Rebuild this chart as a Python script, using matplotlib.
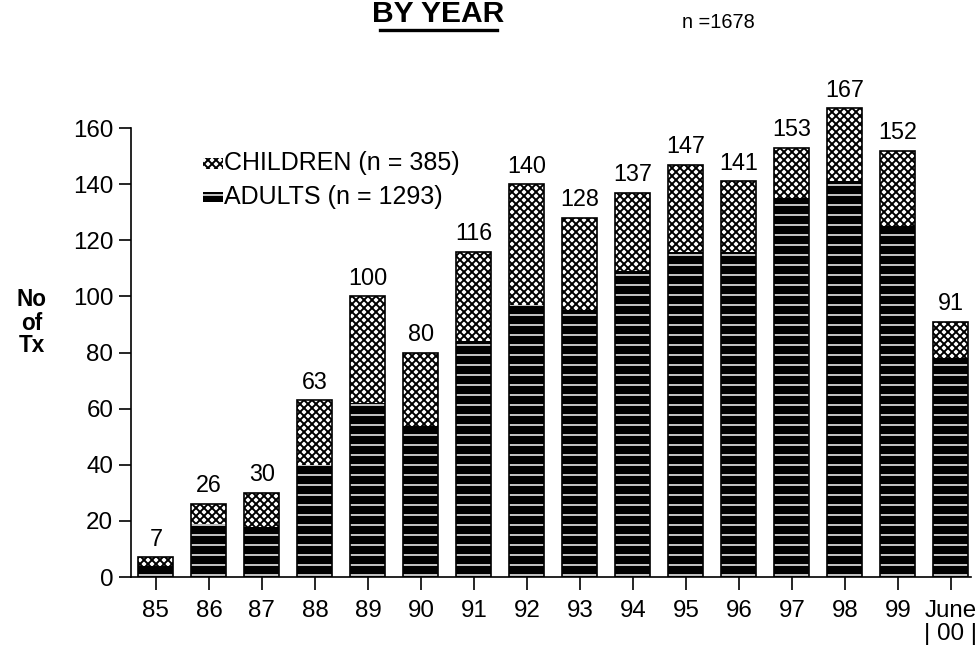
import matplotlib
matplotlib.use("Agg")
import matplotlib.pyplot as plt
from matplotlib.patches import Rectangle
from matplotlib.lines import Line2D
import numpy as np

# Transplants per year, split into adult and child recipients
years = ["85", "86", "87", "88", "89", "90", "91", "92", "93", "94",
         "95", "96", "97", "98", "99", "June\n| 00 |"]
totals = [7, 26, 30, 63, 100, 80, 116, 140, 128, 137, 147, 141, 153, 167, 152, 91]
adults = [4, 19, 18, 40, 62, 54, 84, 97, 95, 109, 116, 116, 135, 141, 125, 78]
children = [t - a for t, a in zip(totals, adults)]

DPI = 120
W, H = 979, 652
plt.rcParams["font.family"] = ["Liberation Sans", "DejaVu Sans"]

STRIPE_LW = 0.9   # white stripes on the adult bars
STIPPLE_LW = 1.15  # fine cross-hatch on the child bars

fig = plt.figure(figsize=(W / DPI, H / DPI), dpi=DPI)
fig.patch.set_facecolor("white")

def px(x, y):
    """pixel position (from top-left) to figure fraction"""
    return x / W, 1 - y / H

ax = fig.add_axes([131 / W, 75 / H, (971 - 131) / W, (577 - 72) / H])
x = np.arange(len(years))
bw = 0.66

# adult part: black with white horizontal stripes
with plt.rc_context({"hatch.linewidth": STRIPE_LW}):
    ax.bar(x, adults, width=bw, color="black", edgecolor="white", hatch="--",
           linewidth=0, zorder=2)
# child part: stippled
with plt.rc_context({"hatch.linewidth": STIPPLE_LW}):
    ax.bar(x, children, bottom=adults, width=bw, color="white", edgecolor="black",
           hatch="xxxxx", linewidth=0, zorder=2)
# outlines
ax.bar(x, totals, width=bw, fill=False, edgecolor="black", linewidth=1.0, zorder=3)

for xi, t in zip(x, totals):
    ax.annotate(str(t), (xi, t), xytext=(0, 7), textcoords="offset points",
                ha="center", va="baseline", fontsize=14)

ax.set_xlim(-0.47, 15.38)
ax.set_ylim(0, 180)
ax.set_yticks(range(0, 161, 20))
ax.set_xticks(x)
ax.set_xticklabels(years, linespacing=1.05)
ax.spines["top"].set_visible(False)
ax.spines["right"].set_visible(False)
ax.spines["left"].set_bounds(0, 160)
for s in ("left", "bottom"):
    ax.spines[s].set_linewidth(1.0)
ax.tick_params(axis="y", direction="out", length=7.2, width=1, pad=3.5, labelsize=14.5)
ax.tick_params(axis="x", direction="out", length=7.8, width=1, pad=6, labelsize=14.5)

# y-axis caption
fig.text(*px(32, 323), "No\nof\nTx", ha="center", va="center", fontsize=13.5,
         fontweight="bold", linespacing=1.0)

# legend
def legend_row(y_center, h, face, edge, hatch, hlw, label):
    x0, y0 = px(203, y_center + h / 2)
    with plt.rc_context({"hatch.linewidth": hlw}):
        r = Rectangle((x0, y0), 20 / W, h / H, transform=fig.transFigure,
                      facecolor=face, edgecolor=edge, hatch=hatch, linewidth=0)
    fig.add_artist(r)
    fig.text(*px(224, y_center), label, ha="left", va="center", fontsize=15)

legend_row(163, 11, "white", "black", "xxxxx", STIPPLE_LW, "CHILDREN (n = 385)")
legend_row(197, 10, "black", "white", "--", STRIPE_LW, "ADULTS (n = 1293)")

# heading and total
fig.text(*px(438, 22), "BY YEAR", ha="center", va="baseline", fontsize=18,
         fontweight="bold")
fig.add_artist(Line2D([380 / W, 497 / W], [1 - 29.5 / H, 1 - 29.5 / H],
                      transform=fig.transFigure, color="black", linewidth=2.0))
fig.text(*px(718, 28), "n =1678", ha="center", va="baseline", fontsize=12)

fig.savefig("out.png", dpi=DPI, facecolor="white")
